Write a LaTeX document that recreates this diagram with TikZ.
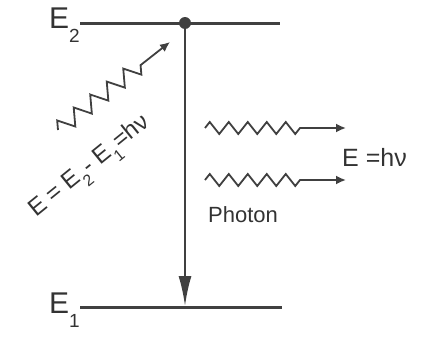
\documentclass[tikz,border=0pt]{standalone}
\usepackage{fontspec}
\setmainfont{Liberation Sans}
\usetikzlibrary{decorations.pathmorphing,arrows.meta}
\begin{document}
\begin{tikzpicture}[x=1pt,y=-1pt,
  level/.style={line width=3pt,color=black!75},
  wave/.style={line width=1.8pt,color=black!75,decorate,
    decoration={zigzag,segment length=19pt,amplitude=6pt,post length=38pt},
    -{Latex[length=10pt,width=9pt]}},
  lbl/.style={color=black!80,inner sep=0pt}]
\useasboundingbox (0,0) rectangle (429,340);
% levels
\coordinate (e2l) at (80,23);
\coordinate (e2r) at (280,23);
\coordinate (e1l) at (80,307);
\coordinate (e1r) at (282,307);
\draw[level] (e2l) -- (e2r);
\draw[level] (e1l) -- (e1r);
\node[lbl,font=\fontsize{30}{30}\selectfont,anchor=east] (E2) at (80,25) {E\raisebox{-0.45em}{\fontsize{19}{19}\selectfont 2}};
\node[lbl,font=\fontsize{30}{30}\selectfont,anchor=east] (E1) at (80,310) {E\raisebox{-0.45em}{\fontsize{19}{19}\selectfont 1}};
% transition
\coordinate (top) at (185,23);
\coordinate (bot) at (185,306);
\fill[black!75] (top) circle (6pt);
\draw[line width=2pt,black!75,-{Latex[length=30pt,width=13pt]}] (top) -- (bot);
% incoming photon
\coordinate (in0) at (58,130);
\coordinate (in1) at (170,42);
\draw[wave,decoration={segment length=21pt,amplitude=8pt,post length=34pt}] (in0) -- (in1);
\node[lbl,rotate=39,font=\fontsize{24}{24}\selectfont] (lab) at (91,168) {E = E\raisebox{-0.4em}{\fontsize{16}{16}\selectfont 2}- E\raisebox{-0.4em}{\fontsize{16}{16}\selectfont 1}=hν};
% emitted photons
\coordinate (a0) at (205,128);
\coordinate (a1) at (346,128);
\coordinate (b0) at (205,180);
\coordinate (b1) at (346,180);
\draw[wave] (a0) -- (a1);
\draw[wave] (b0) -- (b1);
\node[lbl,anchor=west,font=\fontsize{25}{25}\selectfont] (Ehv) at (342,157) {E =hν};
\node[lbl,anchor=west,font=\fontsize{22}{22}\selectfont] (ph) at (208,215) {Photon};
\end{tikzpicture}
\end{document}
